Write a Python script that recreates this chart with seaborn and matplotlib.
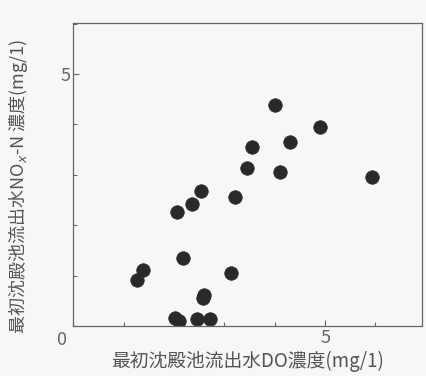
import matplotlib
matplotlib.use("Agg")
import matplotlib.pyplot as plt
import seaborn as sns
import pandas as pd
from matplotlib.ticker import MultipleLocator

# values
do_conc = [4.00, 4.89, 4.31, 3.54, 3.45, 4.11, 5.93, 2.53, 3.21, 2.35, 2.05,
           2.17, 1.38, 1.27, 3.14, 2.59, 2.57, 2.02, 2.10, 2.46, 2.72]
nox_conc = [4.38, 3.95, 3.65, 3.55, 3.13, 3.06, 2.96, 2.67, 2.56, 2.42, 2.26,
            1.34, 1.12, 0.91, 1.06, 0.62, 0.55, 0.15, 0.09, 0.14, 0.14]

df = pd.DataFrame({"DO": do_conc, "NOx": nox_conc})

sns.set_style("ticks")
plt.rcParams['font.family'] = ['Noto Sans CJK JP', 'DejaVu Sans']

fig = plt.figure(figsize=(4.26, 3.76), dpi=100)
fig.patch.set_facecolor('#f7f7f5')
ax = fig.add_axes([0.172, 0.133, 0.818, 0.807])
ax.set_facecolor('#f7f7f5')

sns.scatterplot(data=df, x="DO", y="NOx", ax=ax, s=95, color='#2b2828',
                edgecolor='#2b2828', linewidth=0.5)

ax.set_xlim(0, 6.92)
ax.set_ylim(0, 6.02)
ax.xaxis.set_minor_locator(MultipleLocator(1))
ax.yaxis.set_minor_locator(MultipleLocator(1))
ax.set_xticks([5])
ax.set_yticks([5])
ax.tick_params(which='both', direction='in', color='#666666', width=0.8)
ax.tick_params(which='major', length=4, labelsize=13, labelcolor='#666666', pad=2)
ax.tick_params(which='minor', length=3)
for sp in ax.spines.values():
    sp.set_color('#666666')
    sp.set_linewidth(0.9)

ax.text(-0.02, -0.015, "0", transform=ax.transAxes, ha='right', va='top',
        fontsize=13, color='#666666')

ax.set_xlabel("最初沈殿池流出水DO濃度(mg/1)", fontsize=13.5, color='#555555', labelpad=3)
ax.set_ylabel("最初沈殿池流出水NO$_x$-N 濃度(mg/1)", fontsize=13, color='#555555')
ax.yaxis.set_label_coords(-0.125, 0.46)

fig.savefig("out.png", dpi=100, facecolor=fig.get_facecolor())
